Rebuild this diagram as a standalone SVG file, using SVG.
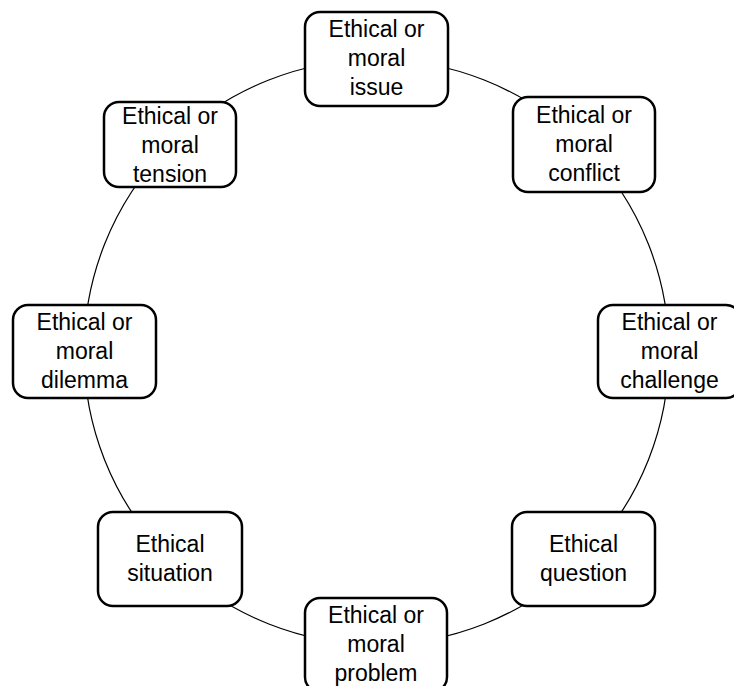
<svg xmlns="http://www.w3.org/2000/svg" width="734" height="686" viewBox="0 0 734 686">
<style>
.box{fill:#fff;stroke:#000;stroke-width:2.5}
.lbl{font-family:"Liberation Sans",Arial,sans-serif;font-size:23px;fill:#000;text-anchor:middle}
.conn{fill:none;stroke:#000;stroke-width:1.2}
</style>
<rect width="734" height="686" fill="#fff"/>
<g id="connectors">
<circle class="conn" cx="376.5" cy="352" r="292.5"/>
</g>
<g id="issue">
<rect class="box" x="305" y="12" width="143" height="94" rx="15"/>
<text class="lbl" x="376.5" y="37">Ethical or</text>
<text class="lbl" x="376.5" y="66">moral</text>
<text class="lbl" x="376.5" y="95">issue</text>
</g>
<g id="conflict">
<rect class="box" x="513" y="97" width="142" height="95" rx="15"/>
<text class="lbl" x="584" y="123">Ethical or</text>
<text class="lbl" x="584" y="152">moral</text>
<text class="lbl" x="584" y="181">conflict</text>
</g>
<g id="challenge">
<rect class="box" x="598" y="305" width="143" height="93" rx="15"/>
<text class="lbl" x="669.5" y="330">Ethical or</text>
<text class="lbl" x="669.5" y="359">moral</text>
<text class="lbl" x="669.5" y="388">challenge</text>
</g>
<g id="question">
<rect class="box" x="512" y="512" width="143" height="94" rx="15"/>
<text class="lbl" x="583.5" y="552">Ethical</text>
<text class="lbl" x="583.5" y="581">question</text>
</g>
<g id="problem">
<rect class="box" x="305" y="598" width="142" height="94" rx="15"/>
<text class="lbl" x="376" y="623">Ethical or</text>
<text class="lbl" x="376" y="652">moral</text>
<text class="lbl" x="376" y="681">problem</text>
</g>
<g id="situation">
<rect class="box" x="98" y="512" width="144" height="94" rx="15"/>
<text class="lbl" x="170" y="552">Ethical</text>
<text class="lbl" x="170" y="581">situation</text>
</g>
<g id="dilemma">
<rect class="box" x="13" y="305" width="143" height="93" rx="15"/>
<text class="lbl" x="84.5" y="330">Ethical or</text>
<text class="lbl" x="84.5" y="359">moral</text>
<text class="lbl" x="84.5" y="388">dilemma</text>
</g>
<g id="tension">
<rect class="box" x="104" y="102" width="132" height="85" rx="15"/>
<text class="lbl" x="170" y="124">Ethical or</text>
<text class="lbl" x="170" y="153">moral</text>
<text class="lbl" x="170" y="182">tension</text>
</g>
</svg>
